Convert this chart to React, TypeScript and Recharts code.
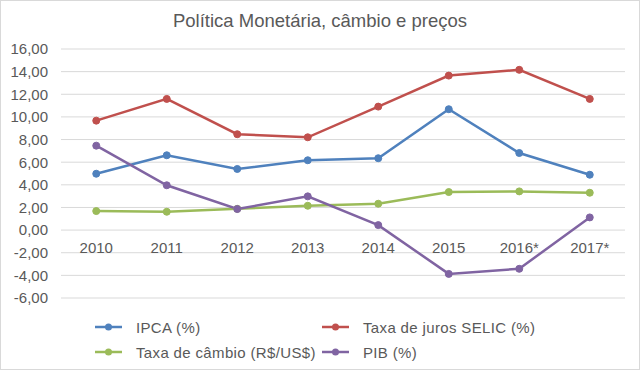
import { CartesianGrid, Line, LineChart, XAxis, YAxis } from "recharts";

const years = ["2010", "2011", "2012", "2013", "2014", "2015", "2016*", "2017*"];
const ipca = [4.98, 6.61, 5.4, 6.17, 6.35, 10.68, 6.81, 4.89];
const selic = [9.67, 11.59, 8.47, 8.2, 10.91, 13.65, 14.16, 11.59];
const cambio = [1.68, 1.62, 1.88, 2.15, 2.33, 3.36, 3.42, 3.3];
const pib = [7.46, 3.96, 1.86, 2.98, 0.44, -3.87, -3.42, 1.12];
const yTicks = [-6, -4, -2, 0, 2, 4, 6, 8, 10, 12, 14, 16];

const series = [
    { key: "ipca", name: "IPCA (%)", color: "#4f81bd" },
    { key: "selic", name: "Taxa de juros SELIC (%)", color: "#c0504d" },
    { key: "cambio", name: "Taxa de câmbio (R$/US$)", color: "#9bbb59" },
    { key: "pib", name: "PIB (%)", color: "#8064a2" },
];

const data = years.map((year, i) => ({
    year,
    ipca: ipca[i],
    selic: selic[i],
    cambio: cambio[i],
    pib: pib[i],
}));

const W = 640;
const H = 370;
const TOP = 49;
const BOTTOM = 72;
const X_AXIS_H = 30;
const PLOT_H = H - TOP - BOTTOM;
const Y_MIN = -6;
const Y_MAX = 16;
const FONT = '"Liberation Sans", Arial, sans-serif';
const TEXT = "#595959";

const fmt = (v: number) => v.toFixed(2).replace(".", ",");

// Excel puts the category labels on the zero line, not at the bottom
function YearTick(props: any) {
    const { x, y, payload } = props;
    const zeroY = y - (PLOT_H * (0 - Y_MIN)) / (Y_MAX - Y_MIN);
    return (
        <text x={x} y={zeroY + 23} textAnchor="middle" fill={TEXT} fontSize={15} fontFamily={FONT}>
            {payload.value}
        </text>
    );
}

function LegendItem({ name, color, left, top }: { name: string; color: string; left: number; top: number }) {
    return (
        <div style={{ position: "absolute", left, top, height: 20, display: "flex", alignItems: "center" }}>
            <svg width={28} height={20} style={{ display: "block" }}>
                <line x1={0} y1={10} x2={27} y2={10} stroke={color} strokeWidth={2.5} />
                <circle cx={13.5} cy={10} r={3.5} fill={color} />
            </svg>
            <span
                style={{
                    marginLeft: 13,
                    fontSize: 15,
                    letterSpacing: 0.35,
                    color: TEXT,
                    fontFamily: FONT,
                    whiteSpace: "nowrap",
                }}
            >
                {name}
            </span>
        </div>
    );
}

export default function App() {
    const legendPos = [
        { left: 95, top: 317 },
        { left: 322, top: 317 },
        { left: 95, top: 342 },
        { left: 322, top: 342 },
    ];
    return (
        <div style={{ position: "absolute", left: 0, top: 0, width: W, height: H, background: "#fff", fontFamily: FONT }}>
            <div
                style={{
                    position: "absolute",
                    left: 0,
                    top: 12,
                    width: W,
                    textAlign: "center",
                    fontSize: 18.5,
                    lineHeight: 1,
                    color: TEXT,
                }}
            >
                Política Monetária, câmbio e preços
            </div>
            <div style={{ position: "absolute", left: 0, top: 0 }}>
                <LineChart
                    width={W}
                    height={H}
                    data={data}
                    margin={{ top: TOP, right: 15, bottom: BOTTOM - X_AXIS_H, left: 0 }}
                >
                    <CartesianGrid vertical={false} stroke="#d9d9d9" strokeWidth={1} />
                    <XAxis
                        dataKey="year"
                        scale="band"
                        height={X_AXIS_H}
                        axisLine={false}
                        tickLine={false}
                        tickSize={0}
                        tickMargin={0}
                        interval={0}
                        tick={<YearTick />}
                    />
                    <YAxis
                        width={61}
                        domain={[Y_MIN, Y_MAX]}
                        ticks={yTicks}
                        interval={0}
                        axisLine={false}
                        tickLine={false}
                        tickSize={0}
                        tickMargin={13}
                        tickFormatter={fmt}
                        tick={{ fontSize: 15, fill: TEXT, fontFamily: FONT }}
                    />
                    {series.map((s) => (
                        <Line
                            key={s.key}
                            type="linear"
                            dataKey={s.key}
                            name={s.name}
                            stroke={s.color}
                            strokeWidth={2.5}
                            dot={{ r: 3.5, fill: s.color, stroke: s.color, strokeWidth: 1 }}
                            activeDot={false}
                            isAnimationActive={false}
                        />
                    ))}
                </LineChart>
            </div>
            {series.map((s, i) => (
                <LegendItem key={s.key} name={s.name} color={s.color} left={legendPos[i].left} top={legendPos[i].top} />
            ))}
            <div
                style={{
                    position: "absolute",
                    left: 0,
                    top: 0,
                    width: W,
                    height: H,
                    boxSizing: "border-box",
                    border: "1px solid #d9d9d9",
                    pointerEvents: "none",
                }}
            />
        </div>
    );
}
